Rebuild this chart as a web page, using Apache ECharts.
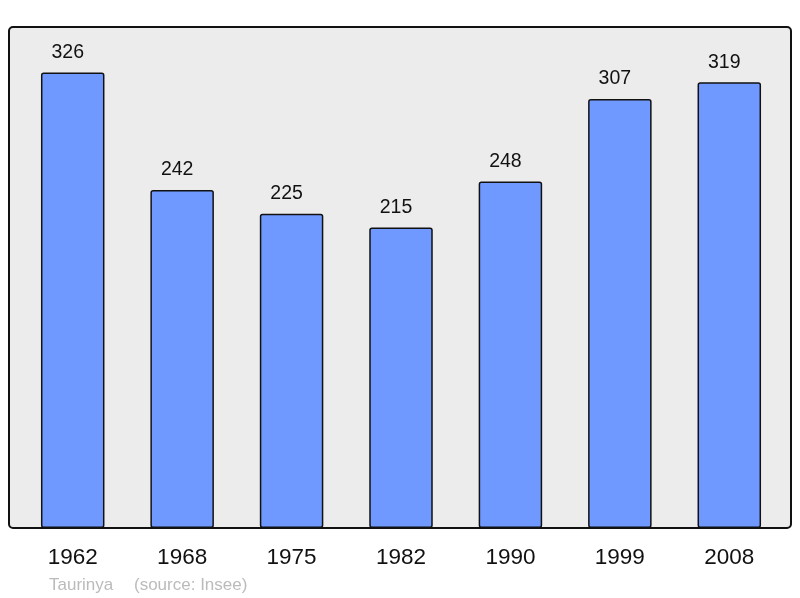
<!DOCTYPE html>
<html>
<head>
<meta charset="utf-8">
<script src="https://cdn.jsdelivr.net/npm/echarts@6/dist/echarts.min.js"></script>
<style>
  html, body { margin: 0; padding: 0; background: #fff; }
  #chart { width: 800px; height: 598px; }
</style>
</head>
<body>
<div id="chart"></div>
<script>
  // données population
  var years = ['1962', '1968', '1975', '1982', '1990', '1999', '2008'];
  var population = [326, 242, 225, 215, 248, 307, 319];

  var chart = echarts.init(document.getElementById('chart'));
  var option = {
    animation: false,
    graphic: [
      {
        type: 'rect',
        z: -10,
        shape: { x: 9, y: 27, width: 782, height: 501, r: 4 },
        style: { fill: '#ececec', stroke: '#111', lineWidth: 2 }
      },
      {
        type: 'text',
        left: 49,
        top: 577,
        style: { text: 'Taurinya', fill: '#bbbbbb', font: '17px "Liberation Sans", Arial, sans-serif' }
      },
      {
        type: 'text',
        left: 134,
        top: 577,
        style: { text: '(source: Insee)', fill: '#bbbbbb', font: '17px "Liberation Sans", Arial, sans-serif' }
      }
    ],
    grid: { left: 18, right: 16, top: 27, bottom: 70 },
    xAxis: {
      type: 'category',
      data: years,
      axisLine: { show: false },
      axisTick: { show: false },
      axisLabel: {
        color: '#111',
        fontSize: 22.5,
        fontFamily: '"Liberation Sans", Arial, sans-serif',
        margin: 18
      }
    },
    yAxis: {
      type: 'value',
      min: 0,
      max: 358.6,
      show: false,
      splitLine: { show: false }
    },
    series: [{
      type: 'bar',
      data: population,
      barWidth: 63.5,
      itemStyle: {
        color: '#7099ff',
        borderColor: '#111',
        borderWidth: 1.5,
        borderRadius: 2
      },
      label: {
        show: true,
        position: 'top',
        distance: 10,
        offset: [-5, 0],
        color: '#111',
        fontSize: 19.5,
        fontFamily: '"Liberation Sans", Arial, sans-serif'
      }
    }]
  };
  chart.setOption(option);
</script>
</body>
</html>
